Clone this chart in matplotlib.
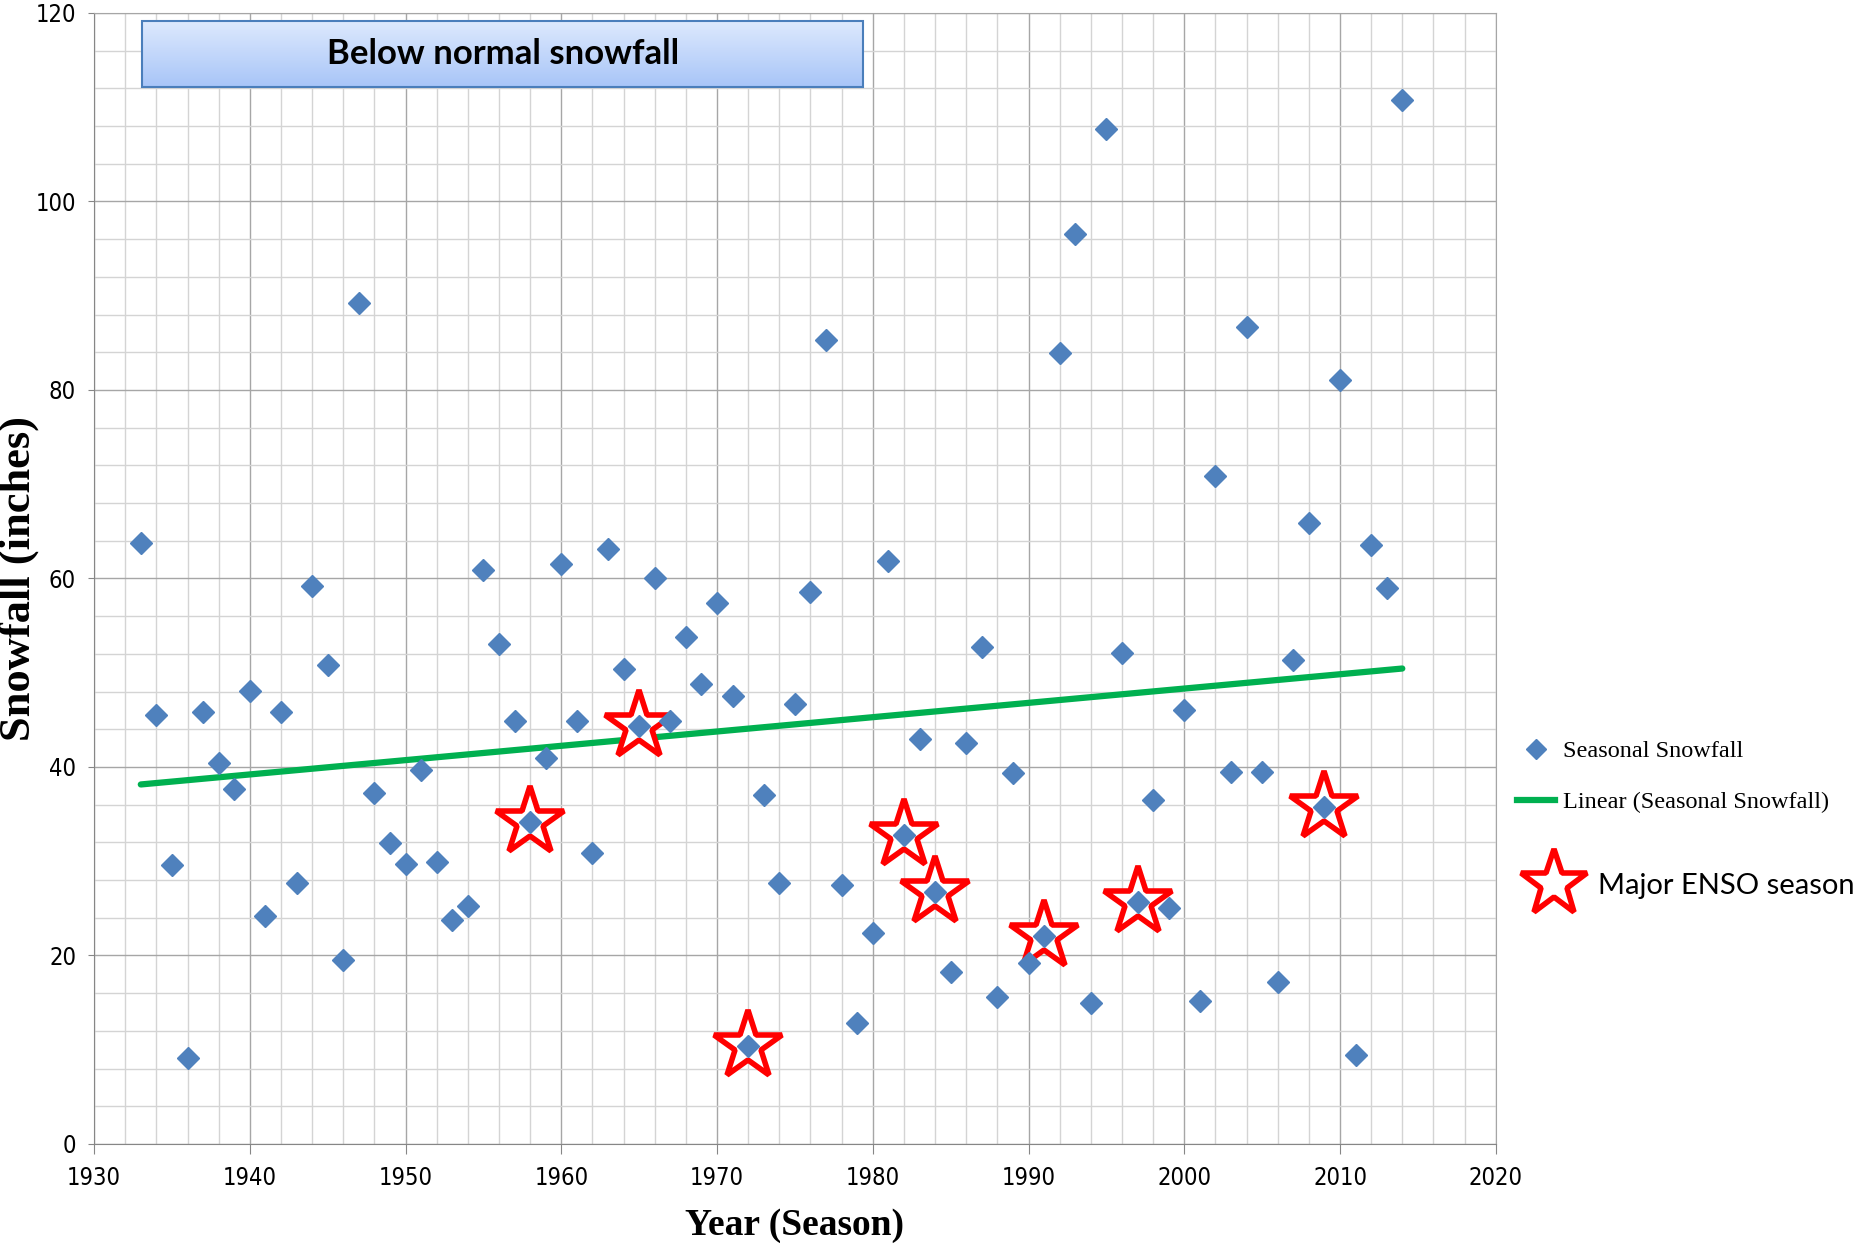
import matplotlib.pyplot as plt
import numpy as np
from matplotlib.patches import Rectangle
from matplotlib.lines import Line2D
from matplotlib.ticker import MultipleLocator
from matplotlib.colors import LinearSegmentedColormap

# seasonal snowfall (inches), season start year
years = list(range(1933, 2015))
snowfall = [63.8, 45.5, 29.6, 9.1, 45.8, 40.4, 37.7, 48.1, 24.2, 45.8,
            27.7, 59.2, 50.8, 19.5, 89.2, 37.2, 31.9, 29.7, 39.7, 29.9,
            23.8, 25.2, 60.9, 53.1, 44.9, 34.2, 41.0, 61.5, 44.9, 30.9,
            63.1, 50.4, 44.3, 60.1, 44.9, 53.8, 48.8, 57.4, 47.5, 10.4,
            37.0, 27.7, 46.7, 58.6, 85.3, 27.5, 12.8, 22.4, 61.9, 32.8,
            43.0, 26.7, 18.2, 42.5, 52.7, 15.6, 39.4, 19.2, 22.1, 83.9,
            96.5, 15.0, 107.7, 52.1, 25.7, 36.5, 25.0, 46.0, 15.2, 70.9,
            39.5, 86.7, 39.5, 17.2, 51.3, 65.9, 35.8, 81.1, 9.4, 63.5,
            59.0, 110.8]
enso_years = [1958, 1965, 1972, 1982, 1984, 1991, 1997, 2009]

blue = '#4F81BD'
green = '#00B050'

# narrow look for the tick labels (falls back to normal if not present)
plt.rcParams['font.stretch'] = 'condensed'

fig = plt.figure(figsize=(18.59, 12.49), dpi=100)
ax = fig.add_axes([0.0506, 0.0841, 0.754, 0.9055])

ax.set_xlim(1930, 2020)
ax.set_ylim(0, 120)
ax.xaxis.set_major_locator(MultipleLocator(10))
ax.xaxis.set_minor_locator(MultipleLocator(2))
ax.yaxis.set_major_locator(MultipleLocator(20))
ax.yaxis.set_minor_locator(MultipleLocator(4))
ax.grid(which='major', color='#a6a6a6', lw=1.0, zorder=0)
ax.grid(which='minor', color='#d4d4d4', lw=1.0, zorder=0)
ax.set_axisbelow(True)
for s in ax.spines.values():
    s.set_color('#a6a6a6')
ax.spines['left'].set_color('#868686')
ax.spines['bottom'].set_color('#868686')
ax.tick_params(which='minor', length=0)
ax.tick_params(axis='x', which='major', length=7, color='#868686', pad=9,
               labelsize=17, labelfontfamily='DejaVu Sans')
ax.tick_params(axis='y', which='major', length=4, color='#868686', pad=9,
               labelsize=17, labelfontfamily='DejaVu Sans')

# ENSO stars behind diamonds
enso_vals = [snowfall[years.index(y)] for y in enso_years]
ax.plot(enso_years, enso_vals, ls='none', marker='*', ms=52, mfc='white',
        mec='red', mew=4, zorder=3)

ax.plot(years, snowfall, ls='none', marker='D', ms=11, color=blue, zorder=4)

# linear trend
k, b = np.polyfit(years, snowfall, 1)
xs = np.array([years[0], years[-1]])
ax.plot(xs, k * xs + b, color=green, lw=4.5, solid_capstyle='round', zorder=2)

# title box with gradient
grad = np.linspace(0, 1, 100).reshape(-1, 1)
cmap = LinearSegmentedColormap.from_list('g', ['#dde9fd', '#a8c5f8'])
ax.imshow(grad, extent=(1933.1, 1979.4, 112.2, 119.2), aspect='auto',
          cmap=cmap, zorder=5, origin='upper')
ax.add_patch(Rectangle((1933.1, 112.2), 46.3, 7.0, fill=False,
                       ec='#4a7ebb', lw=1.5, zorder=6))
ax.text(1956.25, 115.7, 'Below normal snowfall', ha='center', va='center',
        fontsize=25, fontweight='bold', family='Lato', stretch='normal', zorder=7)

ax.set_xlim(1930, 2020)
ax.set_ylim(0, 120)

ax.set_xlabel('Year (Season)', family='Liberation Serif', fontweight='bold',
              fontsize=27, va='center', stretch='normal')
ax.set_ylabel('Snowfall (inches)', family='Liberation Serif', fontweight='bold',
              fontsize=32, va='center', stretch='normal')
ax.xaxis.set_label_coords(0.5, -0.0725)
ax.yaxis.set_label_coords(-0.0535, 0.5)

# legends
h1 = [Line2D([], [], ls='none', marker='D', ms=10, color=blue),
      Line2D([], [], color=green, lw=4.5)]
fig.legend(h1, ['Seasonal Snowfall', 'Linear (Seasonal Snowfall)'],
           loc='upper left', bbox_to_anchor=(0.804, 0.425),
           frameon=False, handlelength=1.6, handletextpad=0.3,
           labelspacing=1.2,
           prop={'family': 'Liberation Serif', 'size': 17.5, 'stretch': 'normal'})
h2 = [Line2D([], [], ls='none', marker='*', ms=50, mfc='white', mec='red', mew=4)]
fig.legend(h2, ['Major ENSO season'], loc='upper left',
           bbox_to_anchor=(0.806, 0.322), frameon=False, handletextpad=0.5,
           prop={'family': 'Lato', 'size': 21, 'stretch': 'normal'})

fig.savefig('out.png', dpi=100)
